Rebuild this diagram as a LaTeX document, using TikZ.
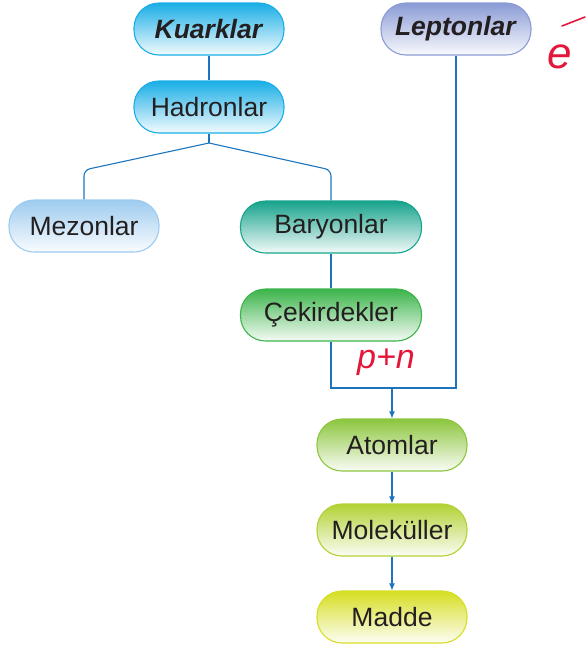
\documentclass[tikz,border=0pt]{standalone}
\usepackage{fontspec}
\setmainfont{Liberation Sans}
\usetikzlibrary{arrows.meta}

\definecolor{kuarkc}{HTML}{19AEE6}
\definecolor{leptc}{HTML}{8A9BD5}
\definecolor{mezc}{HTML}{9DCBEF}
\definecolor{baryc}{HTML}{17A38C}
\definecolor{cekc}{HTML}{3BB44A}
\definecolor{atomc}{HTML}{8CC63E}
\definecolor{molc}{HTML}{B2D235}
\definecolor{maddc}{HTML}{D6DE22}
\definecolor{linec}{HTML}{1C75BC}
\definecolor{inkc}{HTML}{231F20}
\definecolor{penc}{HTML}{E3173A}

\tikzset{
  pill/.style={draw=#1, line width=1.1pt, rounded corners=25pt,
    minimum height=52pt, minimum width=150pt, inner sep=0pt,
    top color=#1, bottom color=#1!5!white, text=inkc,
    font=\fontsize{26.5}{30}\selectfont},
  link/.style={draw=linec, line width=1.1pt},
  flow/.style={link, -{Latex[length=7pt,width=6pt]}},
  pen/.style={text=penc, font=\fontsize{34}{40}\selectfont\itshape}
}

\begin{document}
\begin{tikzpicture}[x=1pt,y=-1pt]
  \useasboundingbox (0,0) rectangle (586,646);

  % top row
  \node[pill=kuarkc] (kuark) at (209,29) {\textbf{\textit{Kuarklar}}};
  \node[pill=leptc]  (lept)  at (456,29) {\textbf{\textit{Leptonlar}}};
  \node[pill=kuarkc] (hadr)  at (209,107) {Hadronlar};

  % hadron branches
  \node[pill=mezc] (mez)  at (84,226) {Mezonlar};
  \node[pill=baryc, minimum width=181pt] (bary) at (331,227) {Baryonlar};
  \node[pill=cekc,  minimum width=181pt] (cek)  at (331,315) {Çekirdekler};

  % down to matter
  \node[pill=atomc] (atom) at (392,445) {Atomlar};
  \node[pill=molc]  (mol)  at (392,530) {Moleküller};
  \node[pill=maddc] (madd) at (392,617) {Madde};

  \coordinate (split) at (209,143);
  \coordinate (lbend) at (84,170);
  \coordinate (rbend) at (331,170);
  \coordinate (join)  at (392,388);

  \draw[link] (kuark) -- (hadr);
  \draw[link] (hadr) -- (split);
  \draw[link, rounded corners=6pt] (split) -- (lbend) -- (mez.north);
  \draw[link, rounded corners=6pt] (split) -- (rbend) -- (bary.north);
  \draw[link] (bary) -- (cek);
  \draw[link] (cek.south) |- (join) -| (lept.south);
  \draw[flow] (join) -- (atom.north);
  \draw[flow] (atom) -- (mol);
  \draw[flow] (mol) -- (madd);

  % hand notes
  \node[pen] (pn) at (386,362) {p+n};
  \node[pen, font=\fontsize{44}{50}\selectfont\itshape] (el) at (560,57) {e};
  \draw[penc, line width=1.6pt, line cap=round] (562,26) -- (585,17);
\end{tikzpicture}
\end{document}
